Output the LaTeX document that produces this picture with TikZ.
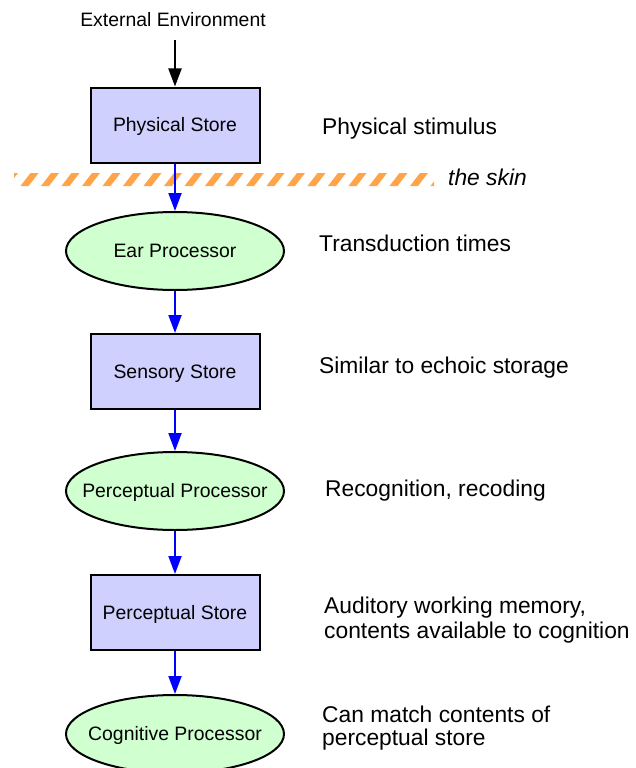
\documentclass[tikz,border=0pt]{standalone}
\usepackage{fontspec}
\setmainfont{Liberation Sans}
\usetikzlibrary{arrows.meta,shapes.geometric}
\definecolor{boxfill}{RGB}{208,208,255}
\definecolor{ellfill}{RGB}{208,255,208}
\definecolor{skinorange}{RGB}{255,164,72}
\begin{document}
\begin{tikzpicture}[x=1pt,y=-1pt,
  storebox/.style={draw=black, line width=2pt, fill=boxfill, minimum width=169pt, minimum height=75pt, inner sep=0pt, text height=17pt, text depth=4pt, font=\fontsize{19.4}{22}\selectfont},
  procell/.style={ellipse, draw=black, line width=2pt, fill=ellfill, minimum width=218pt, minimum height=78pt, inner sep=-30pt, text height=17pt, text depth=4pt, font=\fontsize{19.4}{22}\selectfont},
  flow/.style={draw=blue, line width=2pt, -{Triangle[length=18pt,width=13pt]}},
  flowblack/.style={draw=black, line width=2pt, -{Triangle[length=18pt,width=13pt]}},
  note/.style={anchor=base west, inner sep=0pt, font=\fontsize{22.8}{25}\selectfont}
]
\useasboundingbox (0,0) rectangle (636,768);
\fill[white] (0,0) rectangle (636,768);

% the skin
\begin{scope}
  \clip (14,173) rectangle (434,186);
  \foreach \i in {0,...,21} {
    \fill[skinorange] ({20.5*\i},186) -- ++(8,0) -- ++(10,-13) -- ++(-8,0) -- cycle;
  }
\end{scope}
\node[note, font=\fontsize{22.8}{25}\selectfont\itshape] (skin) at (448,185) {the skin};

% nodes
\node[anchor=base, inner sep=0pt, font=\fontsize{19.4}{22}\selectfont] (env) at (173,27) {External Environment};
\node[storebox] (phys) at (175,125) {Physical Store};
\node[procell] (ear) at (175,251) {Ear Processor};
\node[storebox] (sens) at (175,371.5) {Sensory Store};
\node[procell] (pproc) at (175,491) {Perceptual Processor};
\node[storebox] (pstore) at (175,612.5) {Perceptual Store};
\node[procell] (cog) at (175,734) {Cognitive Processor};

% connectors
\draw[flowblack, shorten <=13pt] (env.south -| phys.north) -- (phys.north);
\draw[flow] (phys.south) -- (ear.north);
\draw[flow] (ear.south) -- (sens.north);
\draw[flow] (sens.south) -- (pproc.north);
\draw[flow] (pproc.south) -- (pstore.north);
\draw[flow] (pstore.south) -- (cog.north);

% notes
\node[note] (n1) at (322,134) {Physical stimulus};
\node[note] (n2) at (319,251.5) {Transduction times};
\node[note] (n3) at (319,373.5) {Similar to echoic storage};
\node[note] (n4) at (325,496.5) {Recognition, recoding};
\node[note] (n5a) at (324,613) {Auditory working memory,};
\node[note] (n5b) at (324,638) {contents available to cognition};
\node[note] (n6a) at (322,722.5) {Can match contents of};
\node[note] (n6b) at (322,745) {perceptual store};
\end{tikzpicture}
\end{document}
